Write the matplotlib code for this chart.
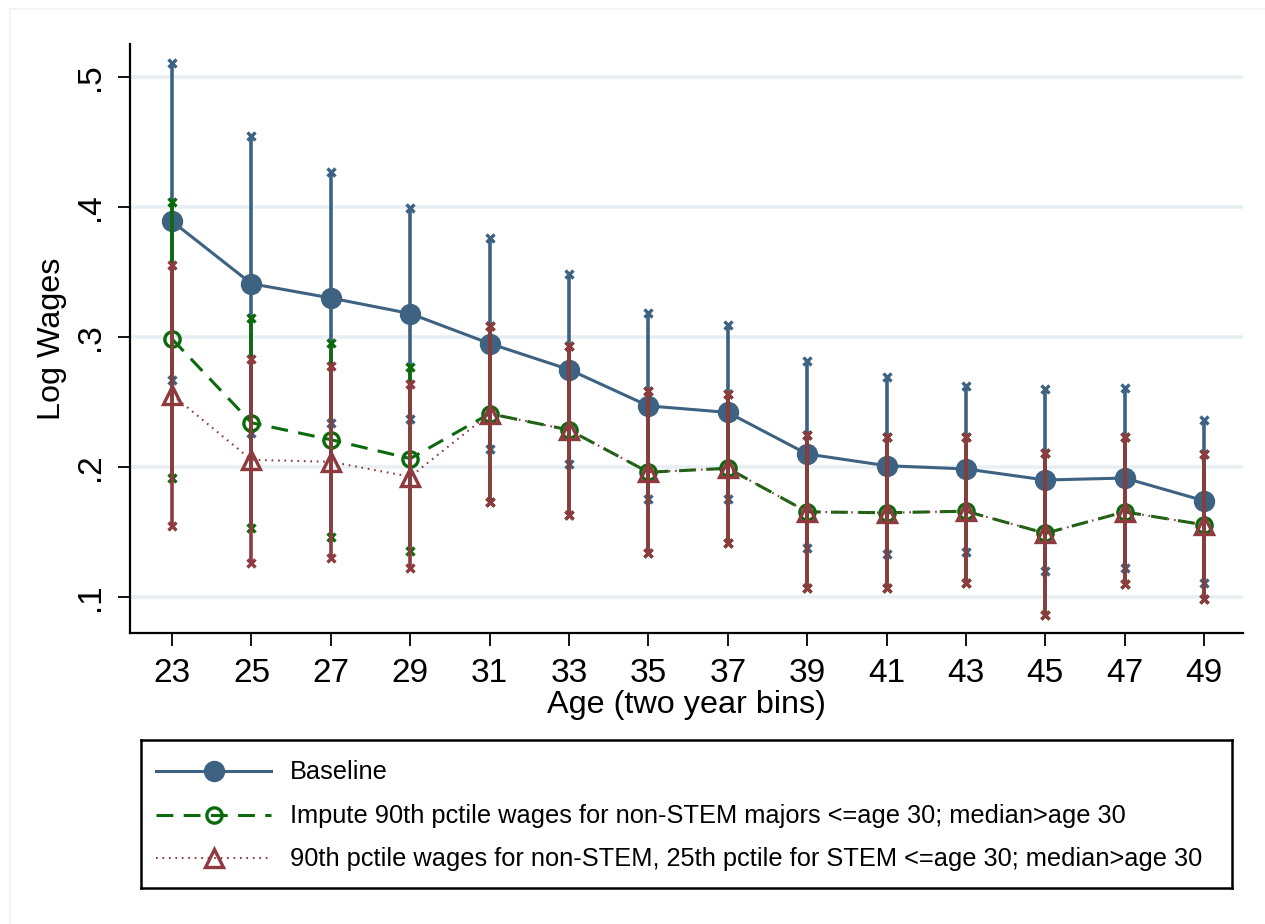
import matplotlib
matplotlib.use("Agg")
import matplotlib.pyplot as plt
from matplotlib.lines import Line2D
import numpy as np

plt.rcParams['font.family'] = ['Liberation Sans', 'DejaVu Sans']

# Age bins (two year bins)
ages = [23, 25, 27, 29, 31, 33, 35, 37, 39, 41, 43, 45, 47, 49]

# Baseline estimates and confidence limits
base_mean = [0.389, 0.341, 0.330, 0.318, 0.295, 0.275, 0.247, 0.242, 0.210, 0.201, 0.1985, 0.190, 0.1915, 0.174]
base_hi = [0.511, 0.455, 0.427, 0.399, 0.376, 0.3485, 0.3185, 0.309, 0.2815, 0.269, 0.2625, 0.260, 0.2605, 0.236]
base_lo = [0.267, 0.226, 0.234, 0.237, 0.214, 0.202, 0.1755, 0.175, 0.138, 0.133, 0.1345, 0.120, 0.1225, 0.111]

# Impute 90th pctile wages for non-STEM majors <= age 30; median > age 30
imp_mean = [0.2985, 0.234, 0.221, 0.2065, 0.241, 0.2285, 0.196, 0.199, 0.1655, 0.1648, 0.166, 0.149, 0.1655, 0.1555]
imp_hi = [0.404, 0.3145, 0.2955, 0.277, 0.3085, 0.293, 0.2585, 0.256, 0.2245, 0.223, 0.223, 0.2105, 0.223, 0.210]
imp_lo = [0.1915, 0.153, 0.146, 0.1355, 0.173, 0.163, 0.134, 0.1415, 0.107, 0.107, 0.1105, 0.086, 0.110, 0.0985]

# 90th pctile for non-STEM, 25th pctile for STEM <= age 30; median > age 30
alt_mean = [0.2555, 0.2055, 0.204, 0.1925, 0.241, 0.2285, 0.196, 0.199, 0.1655, 0.1648, 0.166, 0.149, 0.1655, 0.1555]
alt_hi = [0.3555, 0.283, 0.2775, 0.2635, 0.3085, 0.293, 0.2585, 0.256, 0.2245, 0.223, 0.223, 0.2105, 0.223, 0.210]
alt_lo = [0.1545, 0.126, 0.130, 0.1225, 0.173, 0.163, 0.134, 0.1415, 0.107, 0.107, 0.1105, 0.086, 0.110, 0.0985]

labels = [
    "Baseline",
    "Impute 90th pctile wages for non-STEM majors <=age 30; median>age 30",
    "90th pctile wages for non-STEM, 25th pctile for STEM <=age 30; median>age 30",
]

yticks = [0.1, 0.2, 0.3, 0.4, 0.5]
ytick_labels = [".1", ".2", ".3", ".4", ".5"]

navy = "#3d6282"
green = "#0b6a0b"
maroon = "#8e3a3f"
grid_col = "#e8eff3"

DASH = (5.5, 3.4)
DOT = (0.8, 2.3)

W, H = 1265, 924
fig = plt.figure(figsize=(W / 100, H / 100), dpi=100)
fig.patch.set_facecolor("white")

# faint outer frame of the graph region
fig.add_artist(Line2D([10 / W, 10 / W], [0, 1 - 9 / H], color="#eef2f4", lw=1.2,
                      transform=fig.transFigure))
fig.add_artist(Line2D([10 / W, 1], [1 - 9 / H, 1 - 9 / H], color="#eef2f4", lw=1.2,
                      transform=fig.transFigure))

ax = fig.add_axes([130 / W, 1 - 633 / H, (1243 - 130) / W, (633 - 44) / H])
ax.set_xlim(21.94, 49.98)
ax.set_ylim(0.0723, 0.5254)

for s in ["top", "right"]:
    ax.spines[s].set_visible(False)
for s in ["left", "bottom"]:
    ax.spines[s].set_linewidth(1.6)
    ax.spines[s].set_color("black")

ax.set_yticks(yticks)
ax.set_yticklabels(ytick_labels, rotation=90, va="center")
ax.set_xticks(ages)
ax.tick_params(axis="both", direction="out", length=9, width=1.3, labelsize=24, colors="black")
ax.tick_params(axis="x", pad=9)
ax.tick_params(axis="y", pad=8)
ax.grid(axis="y", color=grid_col, lw=2.6, zorder=0)
ax.set_axisbelow(True)

ax.set_xlabel("Age (two year bins)", fontsize=23.3, labelpad=1)
ax.set_ylabel("Log Wages", fontsize=23.3, labelpad=6)


def draw_series(mean, lo, hi, color, ls, marker, mfc, msize, z, lw=2.2, dashes=None):
    kw = dict(color=color, lw=lw, zorder=z, marker=marker, markersize=msize,
              markerfacecolor=mfc, markeredgecolor=color, markeredgewidth=2.4)
    line, = ax.plot(ages, mean, linestyle=ls, **kw)
    if dashes is not None:
        line.set_dashes(dashes)
    ax.vlines(ages, lo, hi, color=color, lw=2.6, zorder=z + 0.1)
    ax.plot(ages, hi, linestyle="none", marker="x", color=color, markersize=5.5,
            markeredgewidth=2.4, zorder=z + 0.2)
    ax.plot(ages, lo, linestyle="none", marker="x", color=color, markersize=5.5,
            markeredgewidth=2.4, zorder=z + 0.2)


draw_series(base_mean, base_lo, base_hi, navy, "-", "o", navy, 13, 3)
draw_series(imp_mean, imp_lo, imp_hi, green, "--", "o", "none", 11, 4, dashes=DASH)
draw_series(alt_mean, alt_lo, alt_hi, maroon, ":", "^", "none", 13, 5, lw=1.5, dashes=DOT)

# legend box
lx0, lx1, ly0, ly1 = 141, 1232, 740, 888
lax = fig.add_axes([lx0 / W, 1 - ly1 / H, (lx1 - lx0) / W, (ly1 - ly0) / H])
lax.set_xlim(lx0, lx1)
lax.set_ylim(ly1, ly0)
lax.set_xticks([])
lax.set_yticks([])
for s in lax.spines.values():
    s.set_linewidth(1.8)
    s.set_color("black")

rows_y = [771, 815, 858]
styles = [
    dict(color=navy, ls="-", lw=2.2, marker="o", mfc=navy, ms=13, dashes=None),
    dict(color=green, ls="--", lw=2.2, marker="o", mfc="none", ms=11, dashes=DASH),
    dict(color=maroon, ls=":", lw=1.5, marker="^", mfc="none", ms=13, dashes=DOT),
]
for y, lab, st in zip(rows_y, labels, styles):
    ln, = lax.plot([156, 271], [y, y], color=st["color"], lw=st["lw"], linestyle=st["ls"])
    if st["dashes"] is not None:
        ln.set_dashes(st["dashes"])
    lax.plot([213.5], [y], linestyle="none", marker=st["marker"], markersize=st["ms"],
             markerfacecolor=st["mfc"], markeredgecolor=st["color"], markeredgewidth=2.4)
    lax.text(290, y + 1, lab, fontsize=18.3, va="center", ha="left", color="black")

fig.savefig("out.png", dpi=100, facecolor="white")
